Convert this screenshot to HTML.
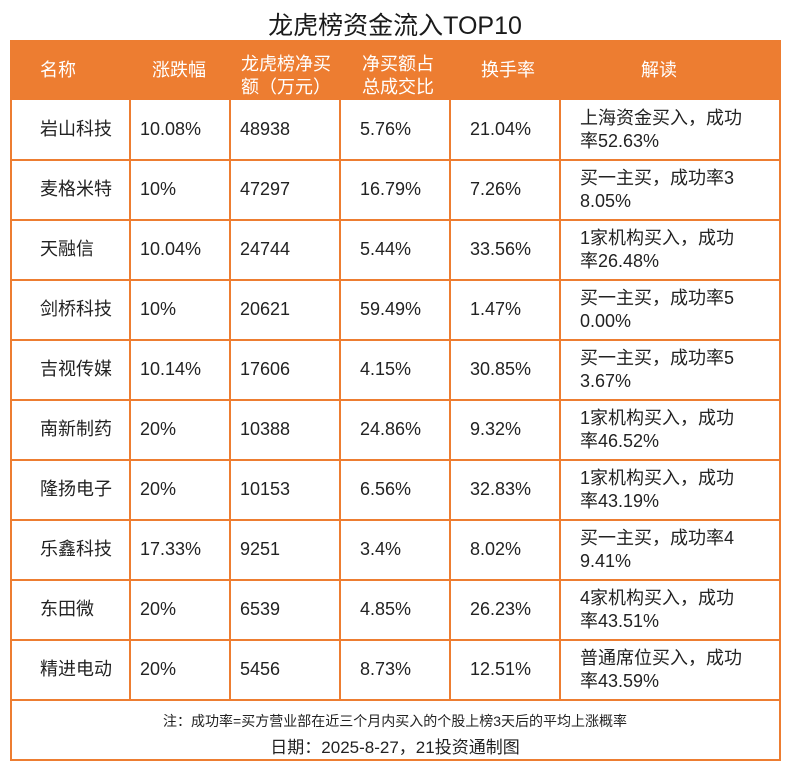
<!DOCTYPE html>
<html><head><meta charset="utf-8"><style>
*{margin:0;padding:0;box-sizing:border-box}
body{width:790px;height:770px;background:#fff;position:relative;overflow:hidden;font-family:"Liberation Sans","Noto Sans CJK SC",sans-serif;color:#222}
.a{position:absolute;white-space:nowrap}
#title{left:0;width:790px;top:6px;text-align:center;font-size:25px;color:#1a1a1a}
#frame{position:absolute;left:10px;top:40px;width:771px;height:721px;border:2px solid #ED7D31}
#head{position:absolute;left:10px;top:40px;width:771px;height:60px;background:#ED7D31}
.h{color:#fff;font-size:18px;line-height:23px}
.c{font-size:18px;line-height:23px}
.hl{position:absolute;left:10px;width:771px;height:2px;background:#ED7D31}
.vl{position:absolute;top:100px;height:600px;width:2px;background:#ED7D31}
</style></head><body>
<div class="a" id="title">龙虎榜资金流入TOP10</div>
<div id="head"></div>
<div id="frame"></div>
<div class="a h" style="left:40px;top:59px">名称</div>
<div class="a h" style="left:152px;top:59px">涨跌幅</div>
<div class="a h" style="left:241px;top:53px">龙虎榜净买<br>额（万元）</div>
<div class="a h" style="left:362px;top:53px">净买额占<br>总成交比</div>
<div class="a h" style="left:481px;top:59px">换手率</div>
<div class="a h" style="left:641px;top:59px">解读</div>
<div id="rows"></div>
<div class="a" style="left:0;width:790px;text-align:center;top:711px;font-size:14px">注：成功率=买方营业部在近三个月内买入的个股上榜3天后的平均上涨概率</div>
<div class="a" style="left:0;width:790px;text-align:center;top:733px;font-size:17px">日期：2025-8-27，21投资通制图</div>
<script>
const names=["岩山科技","麦格米特","天融信","剑桥科技","吉视传媒","南新制药","隆扬电子","乐鑫科技","东田微","精进电动"];
const changes=["10.08%","10%","10.04%","10%","10.14%","20%","20%","17.33%","20%","20%"];
const netBuy=["48938","47297","24744","20621","17606","10388","10153","9251","6539","5456"];
const ratios=["5.76%","16.79%","5.44%","59.49%","4.15%","24.86%","6.56%","3.4%","4.85%","8.73%"];
const turnovers=["21.04%","7.26%","33.56%","1.47%","30.85%","9.32%","32.83%","8.02%","26.23%","12.51%"];
const notes1=["上海资金买入，成功","买一主买，成功率3","1家机构买入，成功","买一主买，成功率5","买一主买，成功率5","1家机构买入，成功","1家机构买入，成功","买一主买，成功率4","4家机构买入，成功","普通席位买入，成功"];
const notes2=["率52.63%","8.05%","率26.48%","0.00%","3.67%","率46.52%","率43.19%","9.41%","率43.51%","率43.59%"];
const root=document.getElementById('rows');
const colX=[40,140,240,360,470];
const lineX=[130,230,340,450,560];
for(const x of lineX){const v=document.createElement('div');v.className='vl';v.style.left=(x-1)+'px';


root.appendChild(v);}
for(let i=0;i<names.length;i++){
 const top=100+i*60;
 if(i>0){const h=document.createElement('div');h.className='hl';h.style.top=(top-1)+'px';
 
 
 root.appendChild(h);}
 const vals=[names[i],changes[i],netBuy[i],ratios[i],turnovers[i]];
 const keys=['stock-name','change-pct','net-buy','net-buy-ratio','turnover'];
 vals.forEach((t,j)=>{const d=document.createElement('div');d.className='a c';d.style.left=colX[j]+'px';d.style.top=(top+18)+'px';d.textContent=t;
 
 
 root.appendChild(d);});
 const n=document.createElement('div');n.className='a c';n.style.left='580px';n.style.top=(top+7)+'px';n.innerHTML=notes1[i]+'<br>'+notes2[i];
 
 
 root.appendChild(n);
}
const b=document.createElement('div');b.className='hl';b.style.top='699px';


root.appendChild(b);
</script>
</body></html>
